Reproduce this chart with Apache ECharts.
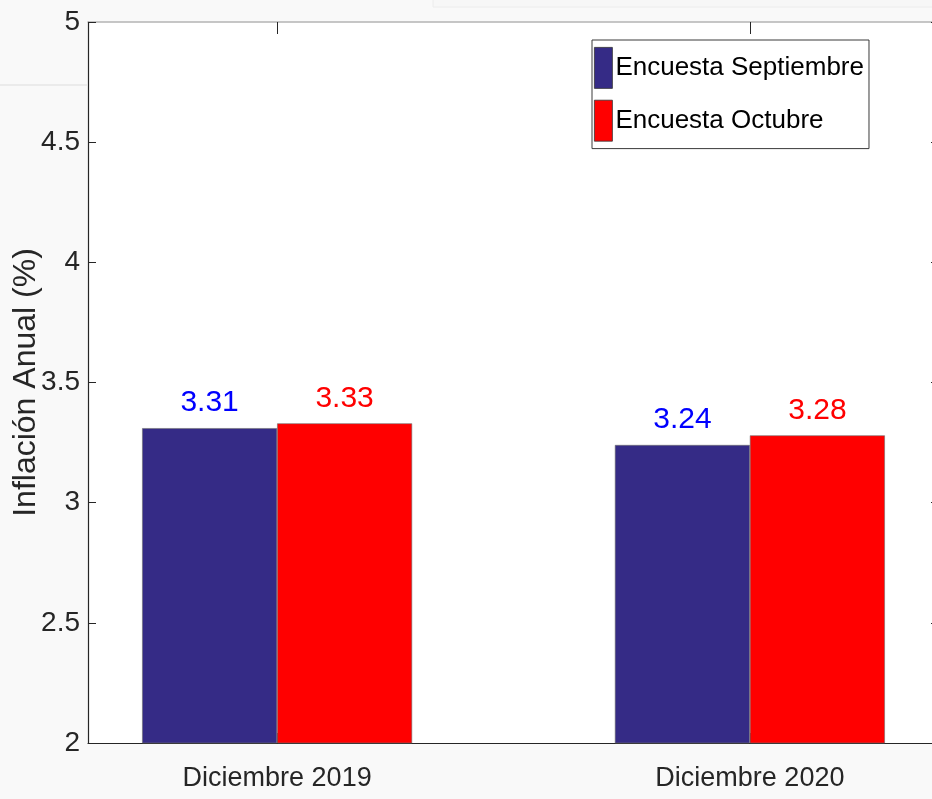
<!DOCTYPE html>
<html>
<head>
<meta charset="utf-8">
<script src="https://cdn.jsdelivr.net/npm/echarts@6/dist/echarts.min.js"></script>
<style>
html,body{margin:0;padding:0;background:#f9f9f9;}
#chart{width:932px;height:799px;}
</style>
</head>
<body>
<div id="chart"></div>
<script>
const categories = ['Diciembre 2019', 'Diciembre 2020'];
const categoryPositions = [1, 2];
const seriesNames = ['Encuesta Septiembre', 'Encuesta Octubre'];
const septiembre = [3.31, 3.24];
const octubre = [3.33, 3.28];
const seriesColors = ['#352b86', '#ff0000'];
const labelColors = ['#0000ff', '#ff0000'];
const yTicks = [2, 2.5, 3, 3.5, 4, 4.5, 5];

const sans = "'Liberation Sans', Arial, Helvetica, sans-serif";
const axisColor = '#262626';

function toPoints(vals) {
  return vals.map((v, i) => [categoryPositions[i], v]);
}

function barSeries(name, vals, color, labelColor) {
  return {
    name: name,
    type: 'bar',
    xAxisIndex: 0,
    yAxisIndex: 0,
    data: toPoints(vals),
    barWidth: 135,
    barGap: '0%',
    itemStyle: { color: color, borderColor: '#6e6e6e', borderWidth: 0.6 },
    label: {
      show: true,
      position: 'top',
      distance: 10,
      color: labelColor,
      fontFamily: sans,
      fontSize: 30,
      formatter: p => p.value[1].toFixed(2)
    },
    emphasis: { disabled: true }
  };
}

const chart = echarts.init(document.getElementById('chart'), null, { renderer: 'canvas' });
chart.setOption({
  backgroundColor: '#f9f9f9',
  animation: false,
  graphic: [
    { type: 'rect', shape: { x: 433, y: -2, width: 520, height: 9 }, style: { fill: '#f7f7f7', stroke: '#ececec', lineWidth: 1 }, z: -1 },
    { type: 'rect', shape: { x: 0, y: 84, width: 87, height: 2 }, style: { fill: '#ebebeb' }, z: -1 }
  ],
  grid: {
    left: 88, top: 22, width: 851, bottom: 56,
    outerBoundsMode: 'none', containLabel: false,
    show: true, backgroundColor: '#ffffff', borderWidth: 0
  },
  legend: {
    orient: 'vertical',
    left: 592, top: 40,
    padding: [7, 5, 7, 2],
    itemWidth: 18, itemHeight: 41, itemGap: 11,
    icon: 'rect',
    backgroundColor: '#ffffff',
    borderColor: '#3a3a3a', borderWidth: 1,
    itemStyle: { borderColor: '#333333', borderWidth: 0.8 },
    textStyle: { fontFamily: sans, fontSize: 26, color: '#000000', padding: [9, 0, 0, -2] },
    data: seriesNames
  },
  xAxis: [
    {
      type: 'value', position: 'bottom', min: 0.6, max: 2.4,
      axisLine: { show: true, onZero: false, lineStyle: { color: axisColor, width: 1.2 } },
      axisTick: { show: true, inside: true, length: 10, customValues: categoryPositions, lineStyle: { color: axisColor } },
      axisLabel: {
        show: true, customValues: categoryPositions, margin: 22,
        fontFamily: sans, fontSize: 27, color: axisColor,
        formatter: v => categories[categoryPositions.indexOf(v)] || ''
      },
      splitLine: { show: false }
    },
    {
      type: 'value', position: 'top', min: 0.6, max: 2.4,
      axisLine: { show: true, onZero: false, lineStyle: { color: '#b4b4b4', width: 1.5 } },
      axisTick: { show: true, inside: true, length: 12, customValues: categoryPositions, lineStyle: { color: axisColor } },
      axisLabel: { show: false },
      splitLine: { show: false }
    }
  ],
  yAxis: [
    {
      type: 'value', position: 'left', min: 2, max: 5, interval: 0.5,
      name: 'Inflación Anual (%)', nameLocation: 'middle', nameGap: 46, nameRotate: 90,
      nameMoveOverlap: false,
      nameTextStyle: { fontFamily: sans, fontSize: 32, color: axisColor },
      axisLine: { show: true, onZero: false, lineStyle: { color: axisColor, width: 1.2 } },
      axisTick: { show: true, inside: true, length: 8, lineStyle: { color: axisColor } },
      axisLabel: {
        margin: 8, fontFamily: sans, fontSize: 28, color: axisColor,
        customValues: yTicks,
        formatter: v => String(v)
      },
      splitLine: { show: false }
    },
    {
      type: 'value', position: 'right', min: 2, max: 5, interval: 0.5,
      axisLine: { show: true, onZero: false, lineStyle: { color: axisColor } },
      axisTick: { show: true, inside: true, length: 8, lineStyle: { color: axisColor } },
      axisLabel: { show: false },
      splitLine: { show: false }
    }
  ],
  series: [
    barSeries(seriesNames[0], septiembre, seriesColors[0], labelColors[0]),
    barSeries(seriesNames[1], octubre, seriesColors[1], labelColors[1])
  ]
});
</script>
</body>
</html>
